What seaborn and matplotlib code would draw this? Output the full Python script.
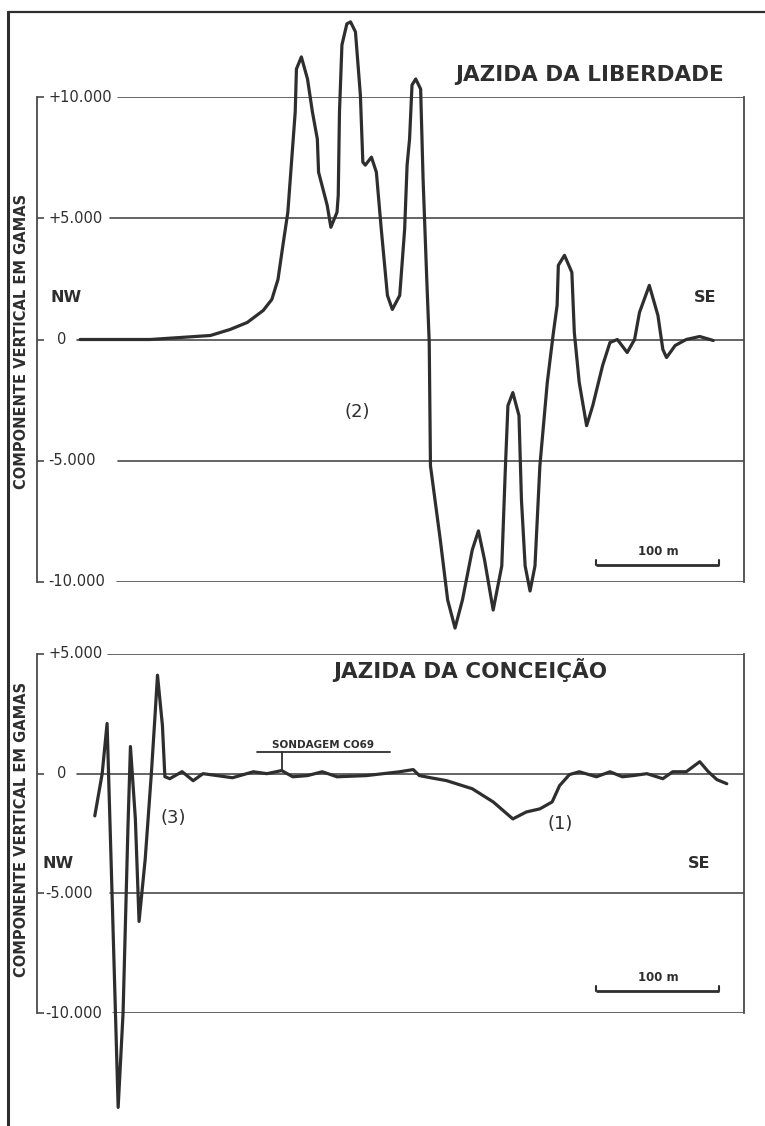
import numpy as np
import pandas as pd
import matplotlib
matplotlib.use("Agg")
import matplotlib.pyplot as plt
import matplotlib.transforms as mtrans
from matplotlib.lines import Line2D
import seaborn as sns

# ---------------- data ----------------
# Jazida da Liberdade: distance along profile (m) and vertical component (gammas)
lib_dist = [35, 92, 141, 157, 171, 184, 191, 196, 200, 204, 207, 210, 211, 215, 220,
            224, 228, 229, 236, 239, 244, 245, 246, 248, 252, 255, 259, 263, 265, 267,
            272, 276, 280, 285, 289, 295, 299, 301, 303, 305, 308, 312, 314, 317, 319,
            320, 328, 334, 340, 346, 354, 359, 364, 371, 378, 381, 383, 387, 392, 394,
            397, 401, 405, 409, 415, 420, 423, 424, 429, 435, 437, 441, 447, 452, 460,
            466, 472, 480, 486, 490, 498, 505, 509, 512, 519, 528, 539, 550]
lib_val = [0, 0, 165, 413, 702, 1198, 1653, 2479, 3884, 5248, 7314, 9380, 11156, 11652, 10743,
           9380, 8264, 6900, 5537, 4628, 5248, 5950, 9380, 12148, 13016, 13098, 12685, 10082, 7314, 7190,
           7520, 6900, 4545, 1818, 1240, 1818, 4545, 7190, 8264, 10495, 10743, 10330, 6611, 2479, -124,
           -5206, -8264, -10743, -11900, -10743, -8677, -7892, -9090, -11156, -9338, -5206, -2727, -2190, -3140, -6611,
           -9338, -10371, -9338, -5206, -1777, 289, 1405, 3058, 3471, 2768, 289, -1777, -3554, -2727, -1074,
           -124, 0, -537, 0, 1116, 2231, 992, -413, -744, -248, 0, 124, -41]

# Jazida da Conceicao
con_dist = [47, 53, 57, 61, 66, 70, 74, 76, 80, 83, 88, 93, 96, 98, 102, 104, 108, 118, 127, 135,
            159, 176, 187, 199, 208, 220, 232, 244, 268, 295, 306, 311, 320, 333, 354, 371, 387,
            398, 409, 419, 425, 433, 441, 455, 466, 476, 485, 496, 509, 517, 528, 539, 546, 553, 561]
con_val = [-1764, 0, 2100, -4956, -13944, -9996, -2184, 1134, -1890, -6174, -3570, 0, 2436, 4116, 2016,
           -126, -210, 84, -294, 0,
           -170, 80, 0, 130, -130, -80, 80, -130, -80, 80, 170, -80, -170, -290, -630, -1180, -1890,
           -1600, -1470, -1180, -500, -40, 80, -130, 80, -130, -80, 0, -210, 80, 80, 500, 80, -250, -420]

lib_ticks = [10000, 5000, 0, -5000, -10000]
lib_labels = ["+10.000", "+5.000", "0", "-5.000", "-10.000"]
con_ticks = [5000, 0, -5000, -10000]
con_labels = ["+5.000", "0", "-5.000", "-10.000"]

# ---------------- style ----------------
sns.set_style("white")
plt.rcParams['font.family'] = ['DejaVu Sans']
INK = "#2e2e2e"
GRID = "#4a4a4a"

W, H = 765, 1126
fig = plt.figure(figsize=(W / 100, H / 100), dpi=100)


def fx(px):
    return px / W


def fy(py):
    return 1 - py / H


ax1 = fig.add_axes([fx(37), fy(582), fx(744) - fx(37), fy(97) - fy(582)])
ax2 = fig.add_axes([fx(37), fy(1013), fx(744) - fx(37), fy(654) - fy(1013)])


def setup(ax, ticks, labels, ylim, grid_start, label_x):
    ax.set_xlim(0, 575)
    ax.set_ylim(*ylim)
    for s in ["top", "bottom"]:
        ax.spines[s].set_visible(False)
    for s in ["left", "right"]:
        ax.spines[s].set_color(GRID)
        ax.spines[s].set_linewidth(1.3)
    ax.set_xticks([])
    ax.set_yticks(ticks)
    ax.set_yticklabels([])
    ax.tick_params(axis="y", direction="in", length=5, width=1.2, color=GRID, left=True, right=False)
    ax.set_xlabel("")
    ax.set_ylabel("")
    tr = mtrans.blended_transform_factory(ax.transAxes, ax.transData)
    for t, lab, gs, lx in zip(ticks, labels, grid_start, label_x):
        ax.axhline(t, xmin=gs, xmax=1, color=GRID, lw=1.2, zorder=1)
        ax.text(lx, t, lab, transform=tr, ha="left", va="center",
                fontsize=10.5, color=INK)


sns.lineplot(x=lib_dist, y=lib_val, ax=ax1, color=INK, linewidth=2.3,
             estimator=None, sort=False, zorder=5)
sns.lineplot(x=con_dist, y=con_val, ax=ax2, color=INK, linewidth=2.3,
             estimator=None, sort=False, zorder=5)
for ax in (ax1, ax2):
    for ln in ax.lines:
        ln.set_clip_on(False)
        ln.set_solid_joinstyle("round")
        ln.set_solid_capstyle("round")

setup(ax1, lib_ticks, lib_labels, (-10000, 10000),
      [0.115, 0.103, 0.057, 0.115, 0.113], [0.016, 0.016, 0.028, 0.016, 0.016])
setup(ax2, con_ticks, con_labels, (-10000, 5000),
      [0.100, 0.057, 0.103, 0.108], [0.016, 0.028, 0.012, 0.012])

# scale bars
for ax, yb in ((ax1, -9300), (ax2, -9070)):
    ax.plot([455, 555], [yb, yb], color=INK, lw=2.0, solid_capstyle="butt")
    ax.plot([455, 455], [yb, yb + 200], color=INK, lw=1.5)
    ax.plot([555, 555], [yb, yb + 200], color=INK, lw=1.5)
    ax.text(505, yb + 300, "100 m", ha="center", va="bottom", fontsize=8.5,
            fontweight="bold", color=INK)

# sondagem marker
ax2.plot([179, 287], [924, 924], color=INK, lw=1.3)
ax2.plot([199, 199], [924, 130], color=INK, lw=1.3)
ax2.text(233, 1000, "SONDAGEM CO69", ha="center", va="bottom", fontsize=7.5,
         fontweight="bold", color=INK)

# texts
fig.text(fx(590), fy(75), "JAZIDA DA LIBERDADE", ha="center", va="center",
         fontsize=15.5, fontweight="bold", color=INK)
fig.text(fx(470), fy(670), "JAZIDA DA CONCEIÇÃO", ha="center", va="center",
         fontsize=15.5, fontweight="bold", color=INK)
for yc in (341, 829):
    fig.text(fx(22), fy(yc), "COMPONENTE VERTICAL EM GAMAS", rotation=90,
             ha="center", va="center", fontsize=10.5, fontweight="bold", color=INK)
fig.text(fx(66), fy(297), "NW", ha="center", va="center", fontsize=11.5, fontweight="bold", color=INK)
fig.text(fx(705), fy(297), "SE", ha="center", va="center", fontsize=11.5, fontweight="bold", color=INK)
fig.text(fx(58), fy(863), "NW", ha="center", va="center", fontsize=11.5, fontweight="bold", color=INK)
fig.text(fx(699), fy(863), "SE", ha="center", va="center", fontsize=11.5, fontweight="bold", color=INK)
fig.text(fx(357), fy(412), "(2)", ha="center", va="center", fontsize=13, color=INK)
fig.text(fx(173), fy(818), "(3)", ha="center", va="center", fontsize=13, color=INK)
fig.text(fx(560), fy(824), "(1)", ha="center", va="center", fontsize=13, color=INK)

# outer frame
fig.add_artist(Line2D([fx(8), fx(8)], [fy(12), 0], color=INK, lw=2.2))
fig.add_artist(Line2D([fx(8), 1], [fy(12), fy(12)], color=INK, lw=1.6))

fig.savefig("out.png", dpi=100, facecolor="white")
